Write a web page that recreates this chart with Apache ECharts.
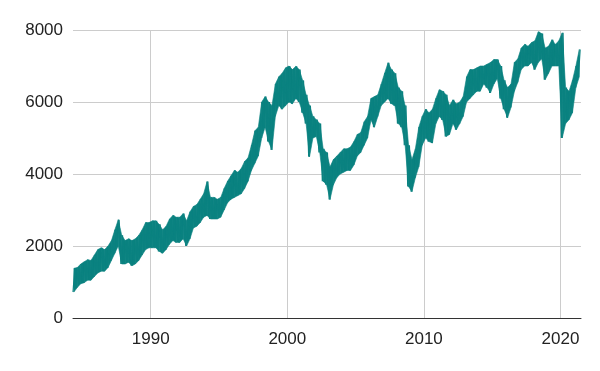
<!DOCTYPE html>
<html>
<head>
<meta charset="utf-8">
<script src="https://cdn.jsdelivr.net/npm/echarts@6/dist/echarts.min.js"></script>
<style>
html,body{margin:0;padding:0;background:#fff;}
#main{width:600px;height:371px;}
</style>
</head>
<body>
<div id="main"></div>
<script>
// quarterly lows / highs, first quarter is Q2 1984
var firstQuarter = 1984.375;
var low = [
    720, 850, 950,
    980, 1050, 1050, 1150,
    1250, 1300, 1300, 1400,
    1600, 1800, 2000, 1500,
    1500, 1550, 1450, 1500,
    1600, 1750, 1900, 1950,
    1950, 1950, 1850, 1800,
    1900, 2050, 2150, 2100,
    2100, 2200, 2000, 2200,
    2500, 2550, 2650, 2800,
    2850, 2750, 2750, 2750,
    2800, 3000, 3200, 3300,
    3350, 3400, 3450, 3600,
    3800, 4100, 4300, 4500,
    5000, 5300, 4900, 4670,
    5600, 5900, 5800, 5900,
    6000, 5950, 6100, 6000,
    5700, 5400, 4480, 5000,
    5040, 4600, 3800, 3700,
    3290, 3700, 3900, 4000,
    4050, 4100, 4100, 4250,
    4500, 4600, 4800, 5000,
    5500, 5300, 5600, 5900,
    6000, 6100, 5950, 5900,
    5400, 5300, 4800, 3650,
    3510, 3900, 4200, 4800,
    5000, 4900, 4860, 5400,
    5600, 5500, 5040, 5100,
    5400, 5230, 5400, 5600,
    6000, 6100, 6200, 6300,
    6300, 6500, 6400, 6250,
    6500, 6650, 6100, 5800,
    5560, 5850, 6300, 6550,
    6900, 7000, 7000, 7100,
    6900, 7100, 7200, 6620,
    6800, 7000, 7000, 7000,
    5000, 5400, 5510, 5700,
    6400, 6700
];
var high = [
    1380, 1400, 1500,
    1560, 1620, 1600, 1750,
    1900, 1950, 1900, 2000,
    2150, 2450, 2730, 2300,
    2150, 2200, 2150, 2200,
    2300, 2450, 2650, 2650,
    2700, 2700, 2600, 2450,
    2550, 2750, 2850, 2800,
    2800, 2900, 2700, 2950,
    3100, 3150, 3300, 3450,
    3790, 3350, 3350, 3300,
    3350, 3600, 3800, 3950,
    4100, 4050, 4150, 4350,
    4450, 4800, 5200, 5300,
    6000, 6150, 6000, 5900,
    6500, 6700, 6800, 6950,
    7000, 6900, 6990, 6900,
    6600, 6200, 5900, 5600,
    5510, 5400, 4700, 4600,
    4200, 4400, 4500, 4600,
    4700, 4700, 4750, 4900,
    5100, 5150, 5450, 5600,
    6100, 6150, 6200, 6500,
    6800, 7090, 6900, 6800,
    6400, 6300, 5900, 4800,
    4400, 4700, 5300, 5600,
    5800, 5700, 5800, 6100,
    6340, 6300, 6200, 5900,
    6060, 5950, 6000, 6150,
    6700, 6900, 6900, 6950,
    7000, 7000, 7050, 7100,
    7180, 7180, 7000, 6600,
    6400, 6500, 7100, 7200,
    7500, 7600, 7550, 7650,
    7700, 7950, 7900, 7500,
    7550, 7730, 7600, 7700,
    7920, 6400, 6300, 6600,
    7000, 7460
];
var yTicks = [0, 2000, 4000, 6000, 8000];

var teal = '#0a8280';

var bandData = [];
// zigzag low -> high inside each quarter for the ragged edges
var lineData = [];
for (var i = 0; i < low.length; i++) {
    var t = firstQuarter + i * 0.25;
    bandData.push([t, low[i], high[i]]);
    lineData.push([t - 0.0625, low[i]]);
    lineData.push([t + 0.0625, high[i]]);
}

// fill between this quarter's low/high and the next one's
function renderBand(params, api) {
    var i = params.dataIndex;
    if (i >= bandData.length - 1) return;
    var a = bandData[i], b = bandData[i + 1];
    var pts = [
        api.coord([a[0], a[1]]),
        api.coord([b[0], b[1]]),
        api.coord([b[0], b[2]]),
        api.coord([a[0], a[2]])
    ];
    return {
        type: 'polygon',
        shape: {points: pts},
        style: {fill: teal, stroke: teal, lineWidth: 0.6}
    };
}

var myChart = echarts.init(document.getElementById('main'));

var option = {
    animation: false,
    grid: {left: 73, right: 19, top: 30, bottom: 53},
    xAxis: {
        type: 'value',
        min: 1984.31,
        max: 2021.5,
        axisLine: {show: true, onZero: false, lineStyle: {color: '#333', width: 1}},
        axisTick: {show: false},
        axisLabel: {
            showMinLabel: false,
            showMaxLabel: false,
            fontSize: 17,
            color: '#222',
            fontFamily: 'Liberation Sans, Arial, sans-serif',
            margin: 13,
            formatter: function (v) { return String(v); }
        },
        splitLine: {show: true, showMinLine: false, showMaxLine: false, lineStyle: {color: '#ccc'}}
    },
    yAxis: {
        type: 'value',
        min: yTicks[0],
        max: yTicks[yTicks.length - 1],
        interval: 2000,
        axisLine: {show: false},
        axisTick: {show: false},
        axisLabel: {
            fontSize: 17,
            color: '#222',
            fontFamily: 'Liberation Sans, Arial, sans-serif',
            margin: 10,
            formatter: function (v) { return String(v); }
        },
        splitLine: {lineStyle: {color: '#ccc'}}
    },
    series: [
        {
            type: 'custom',
            data: bandData,
            encode: {x: 0, y: [1, 2]},
            renderItem: renderBand,
            silent: true
        },
        {
            type: 'line',
            data: lineData,
            symbol: 'none',
            clip: true,
            lineStyle: {color: teal, width: 1.2}
        }
    ]
};

myChart.setOption(option);
</script>
</body>
</html>
